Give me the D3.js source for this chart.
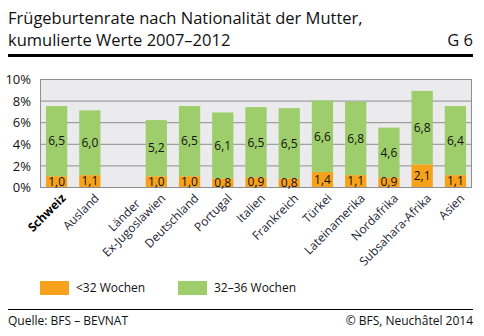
<!DOCTYPE html>
<html><head><meta charset="utf-8">
<script src="https://cdn.jsdelivr.net/npm/d3@7"></script>
<style>
body{margin:0;background:#fff;}
svg{display:block;font-family:"Open Sans",sans-serif;}
</style></head>
<body><svg id="c" width="484" height="336"></svg>
<script>
const categories = ["Schweiz","Ausland","","Länder\nEx-Jugoslawien","Deutschland","Portugal","Italien","Frankreich","Türkei","Lateinamerika","Nordafrika","Subsahara-Afrika","Asien"];
const under32 = [1.0,1.1,null,1.0,1.0,0.8,0.9,0.8,1.4,1.1,0.9,2.1,1.1];
const w32to36 = [6.5,6.0,null,5.2,6.5,6.1,6.5,6.5,6.6,6.8,4.6,6.8,6.4];
const yTicks = [0,2,4,6,8,10];
const seriesNames = ["<32 Wochen","32–36 Wochen"];
const colors = ["#f7a21c","#9ecd6c"];

const svg = d3.select("#c");
const L=40,R=472,T=79,B=187;
const x = d3.scaleBand().domain(d3.range(categories.length)).range([L,R]).paddingInner(0.36).paddingOuter(0.18);
const y = d3.scaleLinear().domain([0,10]).range([B,T]);
const fmt = v => d3.format(".1f")(v).replace(".",",");

// title
const title = svg.append("g").attr("fill","#111").style("font-size","16.5px");
title.append("text").attr("x",8).attr("y",24).text("Frügeburtenrate nach Nationalität der Mutter,");
title.append("text").attr("x",8).attr("y",46).text("kumulierte Werte 2007–2012");
title.append("text").attr("x",473).attr("y",46).attr("text-anchor","end").text("G 6");
svg.append("rect").attr("x",8).attr("y",54).attr("width",465).attr("height",3).attr("fill","#000");

// plot bg
svg.append("rect").attr("x",L).attr("y",T).attr("width",R-L).attr("height",B-T).attr("fill","#ebebed");
// grid
svg.append("g").selectAll("line").data(yTicks).join("line")
  .attr("x1",L).attr("x2",R).attr("y1",d=>y(d)+0.5).attr("y2",d=>y(d)+0.5)
  .attr("stroke","#8e8e8e").attr("stroke-width",1);
svg.append("line").attr("x1",L+0.5).attr("x2",L+0.5).attr("y1",T).attr("y2",B).attr("stroke","#8e8e8e");
svg.append("line").attr("x1",R-0.5).attr("x2",R-0.5).attr("y1",T).attr("y2",B).attr("stroke","#8e8e8e");

// y axis labels
const yAxis = d3.axisLeft(y).tickValues(yTicks).tickSize(0).tickPadding(0).tickFormat(d=>d+"%");
const ya = svg.append("g").attr("transform",`translate(31,0.5)`).call(yAxis);
ya.select(".domain").remove();
ya.selectAll("text").attr("fill","#111").style("font-size","13px").style("font-family","'Open Sans',sans-serif");

// bars
const idx = d3.range(categories.length).filter(i=>under32[i]!=null);
const g = svg.append("g");
idx.forEach(i=>{
  const x0 = x(i), bw = x.bandwidth();
  const a = under32[i], b = w32to36[i];
  g.append("rect").attr("x",x0).attr("width",bw).attr("y",y(a)).attr("height",y(0)-y(a)).attr("fill",colors[0]);
  g.append("rect").attr("x",x0).attr("width",bw).attr("y",y(a+b)).attr("height",y(a)-y(a+b)).attr("fill",colors[1]);
  g.append("text").attr("x",x0+bw/2).attr("y",(y(0)+y(a))/2).attr("dy","0.36em").attr("text-anchor","middle")
    .style("font-size","12px").attr("fill","#111").text(fmt(a));
  g.append("text").attr("x",x0+bw/2).attr("y",(y(a)+y(a+b))/2).attr("dy","0.36em").attr("text-anchor","middle")
    .style("font-size","12px").attr("fill","#111").text(fmt(b));
});

// category labels
const cl = svg.append("g").style("font-size","12px").attr("fill","#1c2333");
categories.forEach((c,i)=>{
  if(!c) return;
  const cx = x(i)+x.bandwidth()/2;
  const gg = cl.append("g").attr("transform",`translate(${cx+4},${193}) rotate(-45)`);
  const lines = c.split("\n");
  const last = gg.append("text").attr("text-anchor","end").attr("dy","0.7em").text(lines[lines.length-1]);
  if(i===0) last.style("font-weight","bold").attr("fill","#000");
  if(lines.length>1){
    const len = last.node().getComputedTextLength();
    gg.append("text").attr("text-anchor","middle").attr("x",-len/2).attr("y",-14).attr("dy","0.7em").text(lines[0]);
  }
});

// legend
const lg = svg.append("g").style("font-size","12px").attr("fill","#111");
[[40,76],[178,214]].forEach((p,k)=>{
  lg.append("rect").attr("x",p[0]).attr("y",281).attr("width",29).attr("height",14).attr("fill",colors[k]);
  lg.append("text").attr("x",p[1]).attr("y",292).text(seriesNames[k]);
});

// footer
svg.append("rect").attr("x",8).attr("y",309).attr("width",465).attr("height",1).attr("fill","#000");
const ft = svg.append("g").style("font-size","12px").attr("fill","#111");
ft.append("text").attr("x",8).attr("y",325).text("Quelle: BFS – BEVNAT");
ft.append("text").attr("x",473).attr("y",325).attr("text-anchor","end").text("© BFS, Neuchâtel 2014");
</script></body></html>
